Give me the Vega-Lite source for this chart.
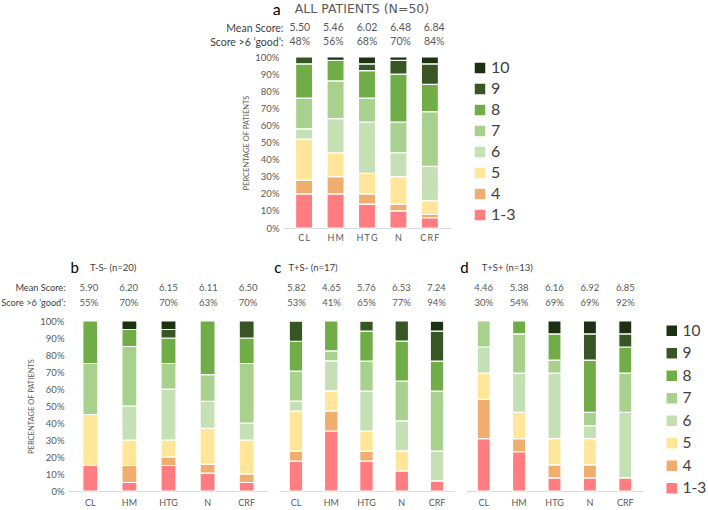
{
  "$schema": "https://vega.github.io/schema/vega-lite/v6.json",
  "padding": {"left": 0, "top": 2, "right": 0, "bottom": 0},
  "config": {"view": {"stroke": null}, "font": "Lato", "background": "white"},
  "datasets": {
    "bars": [
      {"p":"a","cat":"CL","score":"1-3","lvl":3,"pct":20},{"p":"a","cat":"CL","score":"4","lvl":4,"pct":8},{"p":"a","cat":"CL","score":"5","lvl":5,"pct":24},{"p":"a","cat":"CL","score":"6","lvl":6,"pct":6},{"p":"a","cat":"CL","score":"7","lvl":7,"pct":18},{"p":"a","cat":"CL","score":"8","lvl":8,"pct":20},{"p":"a","cat":"CL","score":"9","lvl":9,"pct":4},
      {"p":"a","cat":"HM","score":"1-3","lvl":3,"pct":20},{"p":"a","cat":"HM","score":"4","lvl":4,"pct":10},{"p":"a","cat":"HM","score":"5","lvl":5,"pct":14},{"p":"a","cat":"HM","score":"6","lvl":6,"pct":20},{"p":"a","cat":"HM","score":"7","lvl":7,"pct":22},{"p":"a","cat":"HM","score":"8","lvl":8,"pct":12},{"p":"a","cat":"HM","score":"10","lvl":10,"pct":2},
      {"p":"a","cat":"HTG","score":"1-3","lvl":3,"pct":14},{"p":"a","cat":"HTG","score":"4","lvl":4,"pct":6},{"p":"a","cat":"HTG","score":"5","lvl":5,"pct":12},{"p":"a","cat":"HTG","score":"6","lvl":6,"pct":30},{"p":"a","cat":"HTG","score":"7","lvl":7,"pct":14},{"p":"a","cat":"HTG","score":"8","lvl":8,"pct":16},{"p":"a","cat":"HTG","score":"9","lvl":9,"pct":4},{"p":"a","cat":"HTG","score":"10","lvl":10,"pct":4},
      {"p":"a","cat":"N","score":"1-3","lvl":3,"pct":10},{"p":"a","cat":"N","score":"4","lvl":4,"pct":4},{"p":"a","cat":"N","score":"5","lvl":5,"pct":16},{"p":"a","cat":"N","score":"6","lvl":6,"pct":14},{"p":"a","cat":"N","score":"7","lvl":7,"pct":18},{"p":"a","cat":"N","score":"8","lvl":8,"pct":28},{"p":"a","cat":"N","score":"9","lvl":9,"pct":8},{"p":"a","cat":"N","score":"10","lvl":10,"pct":2},
      {"p":"a","cat":"CRF","score":"1-3","lvl":3,"pct":6},{"p":"a","cat":"CRF","score":"4","lvl":4,"pct":2},{"p":"a","cat":"CRF","score":"5","lvl":5,"pct":8},{"p":"a","cat":"CRF","score":"6","lvl":6,"pct":20},{"p":"a","cat":"CRF","score":"7","lvl":7,"pct":32},{"p":"a","cat":"CRF","score":"8","lvl":8,"pct":16},{"p":"a","cat":"CRF","score":"9","lvl":9,"pct":12},{"p":"a","cat":"CRF","score":"10","lvl":10,"pct":4},

      {"p":"b","cat":"CL","score":"1-3","lvl":3,"pct":15},{"p":"b","cat":"CL","score":"5","lvl":5,"pct":30},{"p":"b","cat":"CL","score":"7","lvl":7,"pct":30},{"p":"b","cat":"CL","score":"8","lvl":8,"pct":25},
      {"p":"b","cat":"HM","score":"1-3","lvl":3,"pct":5},{"p":"b","cat":"HM","score":"4","lvl":4,"pct":10},{"p":"b","cat":"HM","score":"5","lvl":5,"pct":15},{"p":"b","cat":"HM","score":"6","lvl":6,"pct":20},{"p":"b","cat":"HM","score":"7","lvl":7,"pct":35},{"p":"b","cat":"HM","score":"8","lvl":8,"pct":10},{"p":"b","cat":"HM","score":"10","lvl":10,"pct":5},
      {"p":"b","cat":"HTG","score":"1-3","lvl":3,"pct":15},{"p":"b","cat":"HTG","score":"4","lvl":4,"pct":5},{"p":"b","cat":"HTG","score":"5","lvl":5,"pct":10},{"p":"b","cat":"HTG","score":"6","lvl":6,"pct":30},{"p":"b","cat":"HTG","score":"7","lvl":7,"pct":15},{"p":"b","cat":"HTG","score":"8","lvl":8,"pct":15},{"p":"b","cat":"HTG","score":"9","lvl":9,"pct":5},{"p":"b","cat":"HTG","score":"10","lvl":10,"pct":5},
      {"p":"b","cat":"N","score":"1-3","lvl":3,"pct":10.5},{"p":"b","cat":"N","score":"4","lvl":4,"pct":5.3},{"p":"b","cat":"N","score":"5","lvl":5,"pct":21.1},{"p":"b","cat":"N","score":"6","lvl":6,"pct":15.8},{"p":"b","cat":"N","score":"7","lvl":7,"pct":15.8},{"p":"b","cat":"N","score":"8","lvl":8,"pct":31.5},
      {"p":"b","cat":"CRF","score":"1-3","lvl":3,"pct":5},{"p":"b","cat":"CRF","score":"4","lvl":4,"pct":5},{"p":"b","cat":"CRF","score":"5","lvl":5,"pct":20},{"p":"b","cat":"CRF","score":"6","lvl":6,"pct":10},{"p":"b","cat":"CRF","score":"7","lvl":7,"pct":35},{"p":"b","cat":"CRF","score":"8","lvl":8,"pct":15},{"p":"b","cat":"CRF","score":"9","lvl":9,"pct":10},

      {"p":"c","cat":"CL","score":"1-3","lvl":3,"pct":17.6},{"p":"c","cat":"CL","score":"4","lvl":4,"pct":5.9},{"p":"c","cat":"CL","score":"5","lvl":5,"pct":23.5},{"p":"c","cat":"CL","score":"6","lvl":6,"pct":5.9},{"p":"c","cat":"CL","score":"7","lvl":7,"pct":17.6},{"p":"c","cat":"CL","score":"8","lvl":8,"pct":17.6},{"p":"c","cat":"CL","score":"9","lvl":9,"pct":11.8},
      {"p":"c","cat":"HM","score":"1-3","lvl":3,"pct":35.3},{"p":"c","cat":"HM","score":"4","lvl":4,"pct":11.8},{"p":"c","cat":"HM","score":"5","lvl":5,"pct":11.8},{"p":"c","cat":"HM","score":"6","lvl":6,"pct":17.6},{"p":"c","cat":"HM","score":"7","lvl":7,"pct":5.9},{"p":"c","cat":"HM","score":"8","lvl":8,"pct":17.6},
      {"p":"c","cat":"HTG","score":"1-3","lvl":3,"pct":17.6},{"p":"c","cat":"HTG","score":"4","lvl":4,"pct":5.9},{"p":"c","cat":"HTG","score":"5","lvl":5,"pct":11.8},{"p":"c","cat":"HTG","score":"6","lvl":6,"pct":23.5},{"p":"c","cat":"HTG","score":"7","lvl":7,"pct":17.6},{"p":"c","cat":"HTG","score":"8","lvl":8,"pct":17.6},{"p":"c","cat":"HTG","score":"9","lvl":9,"pct":5.9},
      {"p":"c","cat":"N","score":"1-3","lvl":3,"pct":11.8},{"p":"c","cat":"N","score":"5","lvl":5,"pct":11.8},{"p":"c","cat":"N","score":"6","lvl":6,"pct":17.6},{"p":"c","cat":"N","score":"7","lvl":7,"pct":23.5},{"p":"c","cat":"N","score":"8","lvl":8,"pct":23.5},{"p":"c","cat":"N","score":"9","lvl":9,"pct":11.8},
      {"p":"c","cat":"CRF","score":"1-3","lvl":3,"pct":5.9},{"p":"c","cat":"CRF","score":"6","lvl":6,"pct":17.6},{"p":"c","cat":"CRF","score":"7","lvl":7,"pct":35.3},{"p":"c","cat":"CRF","score":"8","lvl":8,"pct":17.6},{"p":"c","cat":"CRF","score":"9","lvl":9,"pct":17.6},{"p":"c","cat":"CRF","score":"10","lvl":10,"pct":5.9},

      {"p":"d","cat":"CL","score":"1-3","lvl":3,"pct":30.8},{"p":"d","cat":"CL","score":"4","lvl":4,"pct":23.1},{"p":"d","cat":"CL","score":"5","lvl":5,"pct":15.4},{"p":"d","cat":"CL","score":"6","lvl":6,"pct":15.4},{"p":"d","cat":"CL","score":"7","lvl":7,"pct":15.3},
      {"p":"d","cat":"HM","score":"1-3","lvl":3,"pct":23.1},{"p":"d","cat":"HM","score":"4","lvl":4,"pct":7.7},{"p":"d","cat":"HM","score":"5","lvl":5,"pct":15.4},{"p":"d","cat":"HM","score":"6","lvl":6,"pct":23.1},{"p":"d","cat":"HM","score":"7","lvl":7,"pct":23.1},{"p":"d","cat":"HM","score":"8","lvl":8,"pct":7.6},
      {"p":"d","cat":"HTG","score":"1-3","lvl":3,"pct":7.7},{"p":"d","cat":"HTG","score":"4","lvl":4,"pct":7.7},{"p":"d","cat":"HTG","score":"5","lvl":5,"pct":15.4},{"p":"d","cat":"HTG","score":"6","lvl":6,"pct":38.5},{"p":"d","cat":"HTG","score":"7","lvl":7,"pct":7.7},{"p":"d","cat":"HTG","score":"8","lvl":8,"pct":15.4},{"p":"d","cat":"HTG","score":"10","lvl":10,"pct":7.6},
      {"p":"d","cat":"N","score":"1-3","lvl":3,"pct":7.7},{"p":"d","cat":"N","score":"4","lvl":4,"pct":7.7},{"p":"d","cat":"N","score":"5","lvl":5,"pct":15.4},{"p":"d","cat":"N","score":"6","lvl":6,"pct":7.7},{"p":"d","cat":"N","score":"7","lvl":7,"pct":7.7},{"p":"d","cat":"N","score":"8","lvl":8,"pct":30.8},{"p":"d","cat":"N","score":"9","lvl":9,"pct":15.4},{"p":"d","cat":"N","score":"10","lvl":10,"pct":7.6},
      {"p":"d","cat":"CRF","score":"1-3","lvl":3,"pct":7.7},{"p":"d","cat":"CRF","score":"6","lvl":6,"pct":38.5},{"p":"d","cat":"CRF","score":"7","lvl":7,"pct":23.1},{"p":"d","cat":"CRF","score":"8","lvl":8,"pct":15.4},{"p":"d","cat":"CRF","score":"9","lvl":9,"pct":7.7},{"p":"d","cat":"CRF","score":"10","lvl":10,"pct":7.6}
    ],
    "stats": [
      {"p":"a","cat":"CL","metric":"Mean Score:","value":"5.50"},{"p":"a","cat":"HM","metric":"Mean Score:","value":"5.46"},{"p":"a","cat":"HTG","metric":"Mean Score:","value":"6.02"},{"p":"a","cat":"N","metric":"Mean Score:","value":"6.48"},{"p":"a","cat":"CRF","metric":"Mean Score:","value":"6.84"},
      {"p":"a","cat":"CL","metric":"Score >6 ‘good’:","value":"48%"},{"p":"a","cat":"HM","metric":"Score >6 ‘good’:","value":"56%"},{"p":"a","cat":"HTG","metric":"Score >6 ‘good’:","value":"68%"},{"p":"a","cat":"N","metric":"Score >6 ‘good’:","value":"70%"},{"p":"a","cat":"CRF","metric":"Score >6 ‘good’:","value":"84%"},
      {"p":"b","cat":"CL","metric":"Mean Score:","value":"5.90"},{"p":"b","cat":"HM","metric":"Mean Score:","value":"6.20"},{"p":"b","cat":"HTG","metric":"Mean Score:","value":"6.15"},{"p":"b","cat":"N","metric":"Mean Score:","value":"6.11"},{"p":"b","cat":"CRF","metric":"Mean Score:","value":"6.50"},
      {"p":"b","cat":"CL","metric":"Score >6 ‘good’:","value":"55%"},{"p":"b","cat":"HM","metric":"Score >6 ‘good’:","value":"70%"},{"p":"b","cat":"HTG","metric":"Score >6 ‘good’:","value":"70%"},{"p":"b","cat":"N","metric":"Score >6 ‘good’:","value":"63%"},{"p":"b","cat":"CRF","metric":"Score >6 ‘good’:","value":"70%"},
      {"p":"c","cat":"CL","metric":"Mean Score:","value":"5.82"},{"p":"c","cat":"HM","metric":"Mean Score:","value":"4.65"},{"p":"c","cat":"HTG","metric":"Mean Score:","value":"5.76"},{"p":"c","cat":"N","metric":"Mean Score:","value":"6.53"},{"p":"c","cat":"CRF","metric":"Mean Score:","value":"7.24"},
      {"p":"c","cat":"CL","metric":"Score >6 ‘good’:","value":"53%"},{"p":"c","cat":"HM","metric":"Score >6 ‘good’:","value":"41%"},{"p":"c","cat":"HTG","metric":"Score >6 ‘good’:","value":"65%"},{"p":"c","cat":"N","metric":"Score >6 ‘good’:","value":"77%"},{"p":"c","cat":"CRF","metric":"Score >6 ‘good’:","value":"94%"},
      {"p":"d","cat":"CL","metric":"Mean Score:","value":"4.46"},{"p":"d","cat":"HM","metric":"Mean Score:","value":"5.38"},{"p":"d","cat":"HTG","metric":"Mean Score:","value":"6.16"},{"p":"d","cat":"N","metric":"Mean Score:","value":"6.92"},{"p":"d","cat":"CRF","metric":"Mean Score:","value":"6.85"},
      {"p":"d","cat":"CL","metric":"Score >6 ‘good’:","value":"30%"},{"p":"d","cat":"HM","metric":"Score >6 ‘good’:","value":"54%"},{"p":"d","cat":"HTG","metric":"Score >6 ‘good’:","value":"69%"},{"p":"d","cat":"N","metric":"Score >6 ‘good’:","value":"69%"},{"p":"d","cat":"CRF","metric":"Score >6 ‘good’:","value":"92%"}
    ],
    "titles": [
      {"p":"a","letter":"a","title":"ALL PATIENTS (N=50)"},
      {"p":"b","letter":"b","title":"T-S- (n=20)"},
      {"p":"c","letter":"c","title":"T+S- (n=17)"},
      {"p":"d","letter":"d","title":"T+S+ (n=13)"}
    ]
  },
  "resolve": {"scale": {"color": "independent"}, "legend": {"color": "independent"}},
  "center": true,
  "spacing": 18,
  "vconcat": [
    {
      "bounds": "flush",
      "spacing": 8,
      "resolve": {"scale": {"color": "independent"}, "legend": {"color": "independent"}},
      "vconcat": [
        {
          "width": 194, "height": 42,
          "layer": [
            {
              "data": {"name": "stats"}, "transform": [{"filter": "datum.p == 'a'"}],
              "mark": {"type": "text", "fontSize": 10.5, "color": "#595959"},
              "encoding": {
                "x": {"field": "cat", "type": "nominal", "scale": {"domain": ["CL","HM","HTG","N","CRF"], "range": [24, 192], "paddingInner": 0.456, "paddingOuter": 0.4}, "axis": null},
                "y": {"field": "metric", "type": "nominal", "scale": {"domain": [" ", "Mean Score:", "Score >6 ‘good’:"], "paddingInner": 0, "paddingOuter": 0},
                      "axis": {"offset": -24, "domain": false, "ticks": false, "labelPadding": 0, "labelFontSize": 10.5, "labelColor": "#404040", "title": null}},
                "text": {"field": "value"}
              }
            },
            {
              "data": {"name": "titles"}, "transform": [{"filter": "datum.p == 'a'"}],
              "mark": {"type": "text", "align": "right", "dx": -19, "dy": -4, "fontSize": 16, "color": "#000000"},
              "encoding": {"x": {"datum": "CL"}, "y": {"datum": " "}, "text": {"field": "letter"}}
            },
            {
              "data": {"name": "titles"}, "transform": [{"filter": "datum.p == 'a'"}],
              "mark": {"type": "text", "align": "left", "dx": -5, "dy": -5, "font": "DejaVu Sans", "fontSize": 12.5, "color": "#595959"},
              "encoding": {"x": {"datum": "CL"}, "y": {"datum": " "}, "text": {"field": "title"}}
            }
          ]
        },
        {
          "width": 194, "height": 171,
          "data": {"name": "bars"}, "transform": [{"filter": "datum.p == 'a'"}],
          "mark": {"type": "bar", "stroke": "white", "strokeWidth": 1.2},
          "encoding": {
            "x": {"field": "cat", "type": "nominal", "sort": ["CL","HM","HTG","N","CRF"], "scale": {"domain": ["CL","HM","HTG","N","CRF"], "range": [24, 192], "paddingInner": 0.456, "paddingOuter": 0.4},
                  "axis": {"title": null, "labelAngle": 0, "domainColor": "#D9D9D9", "ticks": false, "labelPadding": 5, "labelFontSize": 9, "labelColor": "#595959", "labelExpr": "join(split(datum.label, ''), '\u2009')"}},
            "y": {"field": "pct", "type": "quantitative", "stack": "zero", "scale": {"domain": [0, 100], "nice": false, "clamp": true},
                  "axis": {"offset": -24, "values": [0,10,20,30,40,50,60,70,80,90,100], "labelExpr": "datum.value + '%'", "grid": false, "domain": false, "ticks": false, "labelPadding": 4, "labelFontSize": 9.5, "labelColor": "#595959", "title": "PERCENTAGE OF PATIENTS", "titleFontSize": 7.5, "titleFontWeight": "normal", "titleColor": "#595959", "titlePadding": 4}},
            "color": {"field": "score", "type": "nominal",
                      "scale": {"domain": ["10","9","8","7","6","5","4","1-3"], "range": ["#1C3111","#375623","#70AD47","#A9D18E","#C5E0B4","#FFE699","#EFAE6E","#FF7C80"]},
                      "legend": {"title": null, "orient": "right", "offset": 16, "padding": 3, "symbolType": "square", "symbolSize": 110, "symbolStrokeWidth": 0, "labelFontSize": 16, "labelColor": "#404040", "labelOffset": 3, "rowPadding": 5}},
            "order": {"field": "lvl", "type": "quantitative", "sort": "ascending"}
          }
        }
      ]
    },
    {
      "spacing": 6,
      "resolve": {"scale": {"color": "independent"}, "legend": {"color": "independent"}},
      "hconcat": [
        {
          "bounds": "flush",
          "spacing": 11,
          "resolve": {"scale": {"color": "independent"}, "legend": {"color": "independent"}},
          "vconcat": [
            {
              "width": 199, "height": 45,
              "layer": [
                {
                  "data": {"name": "stats"}, "transform": [{"filter": "datum.p == 'b'"}],
                  "mark": {"type": "text", "fontSize": 9.5, "color": "#595959"},
                  "encoding": {
                    "x": {"field": "cat", "type": "nominal", "scale": {"domain": ["CL","HM","HTG","N","CRF"], "paddingInner": 0.616, "paddingOuter": 0.353}, "axis": null},
                    "y": {"field": "metric", "type": "nominal", "scale": {"domain": [" ", "Mean Score:", "Score >6 ‘good’:"], "paddingInner": 0, "paddingOuter": 0},
                          "axis": {"domain": false, "ticks": false, "labelPadding": 4, "labelFontSize": 9.2, "labelColor": "#404040", "title": null}},
                    "text": {"field": "value"}
                  }
                },
                {
                  "data": {"name": "titles"}, "transform": [{"filter": "datum.p == 'b'"}],
                  "mark": {"type": "text", "align": "right", "dx": -10, "dy": -5, "fontSize": 15, "color": "#000000"},
                  "encoding": {"x": {"datum": "CL"}, "y": {"datum": " "}, "text": {"field": "letter"}}
                },
                {
                  "data": {"name": "titles"}, "transform": [{"filter": "datum.p == 'b'"}],
                  "mark": {"type": "text", "align": "left", "dx": 1, "dy": -5, "fontSize": 9.5, "color": "#404040"},
                  "encoding": {"x": {"datum": "CL"}, "y": {"datum": " "}, "text": {"field": "title"}}
                }
              ]
            },
            {
              "width": 199, "height": 170,
              "data": {"name": "bars"}, "transform": [{"filter": "datum.p == 'b'"}],
              "mark": {"type": "bar", "stroke": "white", "strokeWidth": 1.2},
              "encoding": {
                "x": {"field": "cat", "type": "nominal", "sort": ["CL","HM","HTG","N","CRF"], "scale": {"domain": ["CL","HM","HTG","N","CRF"], "paddingInner": 0.616, "paddingOuter": 0.353},
                      "axis": {"title": null, "labelAngle": 0, "domainColor": "#D9D9D9", "ticks": false, "labelPadding": 7, "labelFontSize": 9, "labelColor": "#595959"}},
                "y": {"field": "pct", "type": "quantitative", "stack": "zero", "scale": {"domain": [0, 100], "nice": false, "clamp": true},
                      "axis": {"values": [0,10,20,30,40,50,60,70,80,90,100], "labelExpr": "datum.value + '%'", "grid": false, "domain": false, "ticks": false, "labelPadding": 5, "labelFontSize": 9.5, "labelColor": "#595959", "title": "PERCENTAGE OF PATIENTS", "titleFontSize": 7.5, "titleFontWeight": "normal", "titleColor": "#595959", "titlePadding": 4}},
                "color": {"field": "score", "type": "nominal",
                          "scale": {"domain": ["10","9","8","7","6","5","4","1-3"], "range": ["#1C3111","#375623","#70AD47","#A9D18E","#C5E0B4","#FFE699","#EFAE6E","#FF7C80"]},
                          "legend": null},
                "order": {"field": "lvl", "type": "quantitative", "sort": "ascending"}
              }
            }
          ]
        },
        {
          "bounds": "flush",
          "spacing": 11,
          "resolve": {"scale": {"color": "independent"}, "legend": {"color": "independent"}},
          "vconcat": [
            {
              "width": 175, "height": 45,
              "layer": [
                {
                  "data": {"name": "stats"}, "transform": [{"filter": "datum.p == 'c'"}],
                  "mark": {"type": "text", "fontSize": 9.5, "color": "#595959"},
                  "encoding": {
                    "x": {"field": "cat", "type": "nominal", "scale": {"domain": ["CL","HM","HTG","N","CRF"], "paddingInner": 0.617, "paddingOuter": 0.29}, "axis": null},
                    "y": {"field": "metric", "type": "nominal", "scale": {"domain": [" ", "Mean Score:", "Score >6 ‘good’:"], "paddingInner": 0, "paddingOuter": 0}, "axis": null},
                    "text": {"field": "value"}
                  }
                },
                {
                  "data": {"name": "titles"}, "transform": [{"filter": "datum.p == 'c'"}],
                  "mark": {"type": "text", "align": "right", "dx": -15, "dy": -5, "fontSize": 15, "color": "#000000"},
                  "encoding": {"x": {"datum": "CL"}, "y": {"datum": " "}, "text": {"field": "letter"}}
                },
                {
                  "data": {"name": "titles"}, "transform": [{"filter": "datum.p == 'c'"}],
                  "mark": {"type": "text", "align": "left", "dx": -8, "dy": -5, "fontSize": 9.5, "color": "#404040"},
                  "encoding": {"x": {"datum": "CL"}, "y": {"datum": " "}, "text": {"field": "title"}}
                }
              ]
            },
            {
              "width": 175, "height": 170,
              "data": {"name": "bars"}, "transform": [{"filter": "datum.p == 'c'"}],
              "mark": {"type": "bar", "stroke": "white", "strokeWidth": 1.2},
              "encoding": {
                "x": {"field": "cat", "type": "nominal", "sort": ["CL","HM","HTG","N","CRF"], "scale": {"domain": ["CL","HM","HTG","N","CRF"], "paddingInner": 0.617, "paddingOuter": 0.29},
                      "axis": {"title": null, "labelAngle": 0, "domainColor": "#D9D9D9", "ticks": false, "labelPadding": 7, "labelFontSize": 9, "labelColor": "#595959"}},
                "y": {"field": "pct", "type": "quantitative", "stack": "zero", "scale": {"domain": [0, 100], "nice": false, "clamp": true}, "axis": null},
                "color": {"field": "score", "type": "nominal",
                          "scale": {"domain": ["10","9","8","7","6","5","4","1-3"], "range": ["#1C3111","#375623","#70AD47","#A9D18E","#C5E0B4","#FFE699","#EFAE6E","#FF7C80"]},
                          "legend": null},
                "order": {"field": "lvl", "type": "quantitative", "sort": "ascending"}
              }
            }
          ]
        },
        {
          "bounds": "flush",
          "spacing": 11,
          "resolve": {"scale": {"color": "independent"}, "legend": {"color": "independent"}},
          "vconcat": [
            {
              "width": 177, "height": 45,
              "layer": [
                {
                  "data": {"name": "stats"}, "transform": [{"filter": "datum.p == 'd'"}],
                  "mark": {"type": "text", "fontSize": 9.5, "color": "#595959"},
                  "encoding": {
                    "x": {"field": "cat", "type": "nominal", "scale": {"domain": ["CL","HM","HTG","N","CRF"], "paddingInner": 0.63, "paddingOuter": 0.315}, "axis": null},
                    "y": {"field": "metric", "type": "nominal", "scale": {"domain": [" ", "Mean Score:", "Score >6 ‘good’:"], "paddingInner": 0, "paddingOuter": 0}, "axis": null},
                    "text": {"field": "value"}
                  }
                },
                {
                  "data": {"name": "titles"}, "transform": [{"filter": "datum.p == 'd'"}],
                  "mark": {"type": "text", "align": "right", "dx": -15, "dy": -5, "fontSize": 15, "color": "#000000"},
                  "encoding": {"x": {"datum": "CL"}, "y": {"datum": " "}, "text": {"field": "letter"}}
                },
                {
                  "data": {"name": "titles"}, "transform": [{"filter": "datum.p == 'd'"}],
                  "mark": {"type": "text", "align": "left", "dx": -2, "dy": -5, "fontSize": 9.5, "color": "#404040"},
                  "encoding": {"x": {"datum": "CL"}, "y": {"datum": " "}, "text": {"field": "title"}}
                }
              ]
            },
            {
              "width": 177, "height": 170,
              "data": {"name": "bars"}, "transform": [{"filter": "datum.p == 'd'"}],
              "mark": {"type": "bar", "stroke": "white", "strokeWidth": 1.2},
              "encoding": {
                "x": {"field": "cat", "type": "nominal", "sort": ["CL","HM","HTG","N","CRF"], "scale": {"domain": ["CL","HM","HTG","N","CRF"], "paddingInner": 0.63, "paddingOuter": 0.315},
                      "axis": {"title": null, "labelAngle": 0, "domainColor": "#D9D9D9", "ticks": false, "labelPadding": 7, "labelFontSize": 9, "labelColor": "#595959"}},
                "y": {"field": "pct", "type": "quantitative", "stack": "zero", "scale": {"domain": [0, 100], "nice": false, "clamp": true}, "axis": null},
                "color": {"field": "score", "type": "nominal",
                          "scale": {"domain": ["10","9","8","7","6","5","4","1-3"], "range": ["#1C3111","#375623","#70AD47","#A9D18E","#C5E0B4","#FFE699","#EFAE6E","#FF7C80"]},
                          "legend": {"title": null, "orient": "right", "offset": 19, "padding": 2, "symbolType": "square", "symbolSize": 110, "symbolStrokeWidth": 0, "labelFontSize": 15.5, "labelColor": "#404040", "labelOffset": 3, "rowPadding": 5.5}},
                "order": {"field": "lvl", "type": "quantitative", "sort": "ascending"}
              }
            }
          ]
        }
      ]
    }
  ]
}
